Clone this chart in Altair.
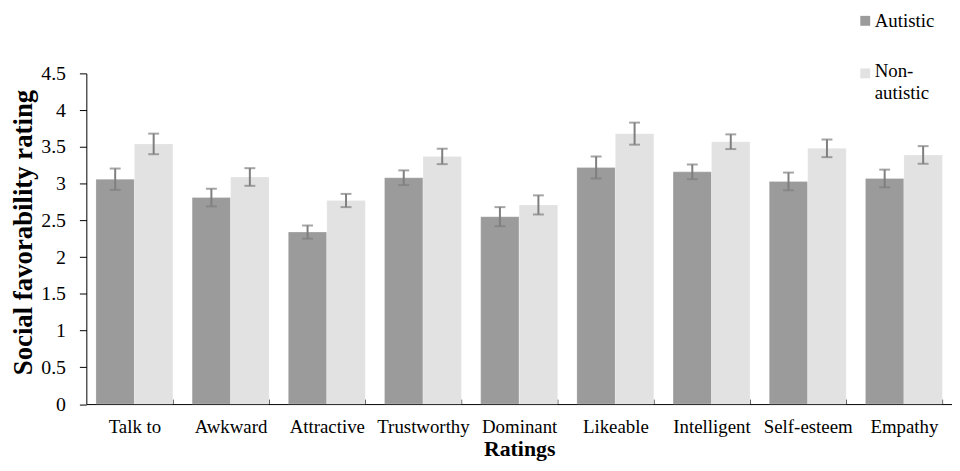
import altair as alt
import pandas as pd

categories = ["Talk to", "Awkward", "Attractive", "Trustworthy", "Dominant",
              "Likeable", "Intelligent", "Self-esteem", "Empathy"]
series = ["Autistic", "Non-autistic"]
autistic = [3.06, 2.81, 2.34, 3.08, 2.55, 3.22, 3.16, 3.03, 3.07]
autistic_err = [0.145, 0.12, 0.09, 0.10, 0.13, 0.15, 0.10, 0.12, 0.12]
non_autistic = [3.54, 3.09, 2.77, 3.37, 2.71, 3.68, 3.57, 3.48, 3.39]
non_autistic_err = [0.14, 0.12, 0.09, 0.105, 0.13, 0.15, 0.10, 0.12, 0.12]
y_ticks = [0, 0.5, 1, 1.5, 2, 2.5, 3, 3.5, 4, 4.5]
colors = ["#9b9b9b", "#e2e2e2"]

rows = []
for s, vals, errs in [(series[0], autistic, autistic_err), (series[1], non_autistic, non_autistic_err)]:
    for c, v, e in zip(categories, vals, errs):
        rows.append({"rating": c, "group": s, "value": v, "lo": v - e, "hi": v + e})
df = pd.DataFrame(rows)

FONT = "Liberation Serif"

x_enc = alt.X("rating:N", sort=categories,
              scale=alt.Scale(paddingInner=0.2, paddingOuter=0.1),
              axis=alt.Axis(title="Ratings", labelAngle=0, labelFontSize=19,
                            labelPadding=19, titleFontSize=22, titleFontWeight="bold",
                            titleBaseline="alphabetic", titleY=52,
                            domainColor="#000000", tickColor="#000000",
                            tickBand="extent", tickSize={"expr": "-5"}, labelColor="#000000",
                            titleColor="#000000"))
xoff = alt.XOffset("group:N", sort=series, scale=alt.Scale(paddingInner=0, paddingOuter=0))
y_scale = alt.Scale(domain=[0, 4.5], nice=False, zero=True)
y_axis = alt.Axis(values=y_ticks, format=".1~f", title="Social favorability rating",
                  grid=False, labelFontSize=20, titleFontSize=27,
                  titleFontWeight="bold", titlePadding=3, titleY=160, labelPadding=14,
                  domainColor="#000000", tickColor="#000000", tickSize=7,
                  labelColor="#000000", titleColor="#000000")

base = alt.Chart(df)

bars = base.mark_bar(stroke="#ffffff", strokeWidth=0.6, strokeOpacity=0.4).encode(
    x=x_enc,
    xOffset=xoff,
    y=alt.Y("value:Q", scale=y_scale, axis=y_axis),
    color=alt.Color("group:N", scale=alt.Scale(domain=series, range=colors), legend=None),
)

err_color = "#7f7f7f"
rules = base.mark_rule(color=err_color, strokeWidth=2).encode(
    x=x_enc, xOffset=xoff,
    y=alt.Y("lo:Q", scale=y_scale, axis=y_axis), y2="hi:Q")
cap_lo = base.mark_tick(color=err_color, thickness=2, size=11).encode(
    x=x_enc, xOffset=xoff, y=alt.Y("lo:Q", scale=y_scale, axis=y_axis))
cap_hi = base.mark_tick(color=err_color, thickness=2, size=11).encode(
    x=x_enc, xOffset=xoff, y=alt.Y("hi:Q", scale=y_scale, axis=y_axis))

one = alt.Data(values=[{}])
leg_sq1 = alt.Chart(one).mark_square(size=100, opacity=1).encode(
    x=alt.value(785.5), y=alt.value(-53), color=alt.value(colors[0]))
leg_tx1 = alt.Chart(one).mark_text(align="left", baseline="alphabetic", fontSize=19,
                                   font=FONT, color="#000000").encode(
    x=alt.value(795), y=alt.value(-47), text=alt.value(series[0]))
leg_sq2 = alt.Chart(one).mark_square(size=100, opacity=1).encode(
    x=alt.value(785.5), y=alt.value(0), color=alt.value(colors[1]))
leg_tx2 = alt.Chart(one).mark_text(align="left", baseline="alphabetic", fontSize=19,
                                   font=FONT, color="#000000", lineHeight=22).encode(
    x=alt.value(795), y=alt.value(4), text=alt.value(["Non-", "autistic"]))

chart = alt.layer(bars, rules, cap_lo, cap_hi, leg_sq1, leg_tx1, leg_sq2, leg_tx2).properties(
    width=873, height=333.5,
    padding={"left": 79, "top": 64, "right": 0, "bottom": 57.5},
    autosize=alt.AutoSizeParams(type="none"),
).configure(font=FONT).configure_view(stroke=None).configure_axis(labelFont=FONT, titleFont=FONT)

chart.save("out.html", embed_options={"renderer": "svg", "actions": False})
